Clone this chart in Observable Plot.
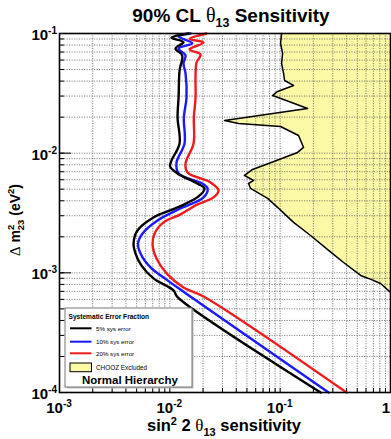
<!DOCTYPE html>
<html><head><meta charset="utf-8">
<script src="https://cdn.jsdelivr.net/npm/d3@7"></script>
<script src="https://cdn.jsdelivr.net/npm/@observablehq/plot@0.6"></script>
<style>
html,body{margin:0;padding:0;background:#fff;}
svg{display:block;font-family:"Liberation Sans",Arial,sans-serif;}
</style></head>
<body><div id="chart"></div>
<script>
// 5% systematic error (black)
const dm2_5  = [0.1, 0.0921, 0.0846, 0.0749, 0.0655, 0.0491, 0.0292, 0.01987, 0.01205, 0.00869, 0.00774, 0.00677, 0.00558, 0.00507, 0.00435, 0.00352, 0.0029, 0.00226, 0.00176, 0.00145, 0.00115, 0.000898, 0.000713, 0.000626, 0.0001];
const sens_5 = [0.01477, 0.01036, 0.01331, 0.01126, 0.01295, 0.01225, 0.0120, 0.01175, 0.01225, 0.01036, 0.01005, 0.01175, 0.0177, 0.02064, 0.0182, 0.01175, 0.00711, 0.00509, 0.00469, 0.00489, 0.00554, 0.00711, 0.0108, 0.01175, 0.2324];
// 10% systematic error (blue)
const dm2_10  = [0.1, 0.0944, 0.0829, 0.0749, 0.0655, 0.0562, 0.0463, 0.0292, 0.01987, 0.01205, 0.00836, 0.00677, 0.00558, 0.00507, 0.00427, 0.00345, 0.00274, 0.00213, 0.00176, 0.00145, 0.00111, 0.000865, 0.000686, 0.0001];
const sens_10 = [0.0154, 0.0120, 0.01596, 0.0120, 0.01388, 0.0133, 0.01388, 0.01416, 0.0134, 0.01359, 0.0115, 0.0120, 0.01968, 0.02198, 0.02022, 0.0125, 0.00773, 0.00566, 0.00515, 0.00542, 0.00668, 0.00953, 0.01359, 0.2748];
// 20% systematic error (red)
const dm2_20  = [0.1, 0.0900, 0.0841, 0.0735, 0.0668, 0.0572, 0.0446, 0.0292, 0.01987, 0.01205, 0.0082, 0.0069, 0.00569, 0.00488, 0.00427, 0.00373, 0.00308, 0.00264, 0.00213, 0.00173, 0.00132, 0.00097, 0.000755, 0.000635, 0.0001];
const sens_20 = [0.0215, 0.01509, 0.0202, 0.01509, 0.01898, 0.01746, 0.0171, 0.0171, 0.0165, 0.0164, 0.01388, 0.01447, 0.0234, 0.02764, 0.0249, 0.01782, 0.0125, 0.00877, 0.00727, 0.00697, 0.00757, 0.00953, 0.0133, 0.0202, 0.400];
// CHOOZ exclusion boundary
const chooz_dm2  = [0.1, 0.0825, 0.0681, 0.0562, 0.0463, 0.0405, 0.0368, 0.0328, 0.0303, 0.0281, 0.0236, 0.01875, 0.0177, 0.0167, 0.01406, 0.01117, 0.01014, 0.0082, 0.00731, 0.00651, 0.00592, 0.00558, 0.00507, 0.00419, 0.00352, 0.00264, 0.00205, 0.00154, 0.00122, 0.000951, 0.000898, 0.000815, 0.000686];
const chooz_sens = [0.1030, 0.1008, 0.1052, 0.1030, 0.1074, 0.1096, 0.1323, 0.0947, 0.0853, 0.1074, 0.1772, 0.0313, 0.0420, 0.1008, 0.1468, 0.1629, 0.1438, 0.0785, 0.0562, 0.0475, 0.0574, 0.0517, 0.0539, 0.0769, 0.0947, 0.1323, 0.1886, 0.2748, 0.3757, 0.5358, 0.633, 0.8132, 1.0];

const xMajor = [1e-3, 1e-2, 1e-1, 1];
const xMajorLabels = ["-3", "-2", "-1", ""];
const yMajor = [1e-1, 1e-2, 1e-3, 1e-4];
const yMajorLabels = ["-1", "-2", "-3", "-4"];
const legendLabels = ["5% sys error", "10% sys error", "20% sys error", "CHOOZ Excluded"];
const seriesColors = ["#000000", "#1a1aff", "#ee1c1c"];

const minor = (lo, hi) => { const t = []; for (let e = lo; e < hi; e++) for (let k = 1; k <= 9; k++) t.push(k * Math.pow(10, e)); t.push(Math.pow(10, hi)); return t; };
const xMinor = minor(-3, 0), yMinor = minor(-4, -1);

const zip = (xs, ys) => xs.map((x, i) => ({x, y: ys[i]}));
const s5 = zip(sens_5, dm2_5), s10 = zip(sens_10, dm2_10), s20 = zip(sens_20, dm2_20), chooz = zip(chooz_sens, chooz_dm2);

const chart = Plot.plot({
  width: 391, height: 439,
  marginTop: 33, marginLeft: 59, marginRight: 1, marginBottom: 47,
  x: {type: "log", domain: [1e-3, 1]},
  y: {type: "log", domain: [1e-4, 1e-1]},
  marks: [
    Plot.areaX(chooz, {y: "y", x1: "x", x2: 1, fill: "#fbf9a6"}),
    Plot.gridX(xMinor, {stroke: "#555", strokeOpacity: 0.9, strokeWidth: 0.8, strokeDasharray: "1.2,1.3"}),
    Plot.gridY(yMinor, {stroke: "#555", strokeOpacity: 0.9, strokeWidth: 0.8, strokeDasharray: "1.2,1.3"}),
    Plot.axisX({ticks: xMinor, tickSize: -4, tickFormat: () => "", label: null}),
    Plot.axisY({ticks: yMinor, tickSize: -5, tickFormat: () => "", label: null}),
    Plot.axisY({ticks: yMajor, tickSize: -12, tickFormat: () => "", label: null}),
    Plot.line(chooz, {x: "x", y: "y", stroke: "#000", strokeWidth: 1.5}),
    Plot.line(s20, {x: "x", y: "y", stroke: seriesColors[2], strokeWidth: 2.4, curve: "catmull-rom"}),
    Plot.line(s10, {x: "x", y: "y", stroke: seriesColors[1], strokeWidth: 2.4, curve: "catmull-rom"}),
    Plot.line(s5, {x: "x", y: "y", stroke: seriesColors[0], strokeWidth: 2.4, curve: "catmull-rom"}),
    Plot.frame({stroke: "#000", strokeWidth: 1.6})
  ]
});
document.getElementById("chart").appendChild(chart);

const sx = chart.scale("x"), sy = chart.scale("y");
const svg = d3.select(chart);
const F = '"Liberation Sans",Arial,sans-serif';
const G = '"Liberation Serif","Times New Roman",serif';

// y tick labels
yMajor.forEach((v, i) => {
  const t = svg.append("text").attr("x", 57).attr("y", sy.apply(v) + 7)
    .attr("text-anchor", "end").attr("font-family", F).attr("font-weight", "bold").attr("font-size", 15).attr("fill", "#000");
  t.append("tspan").text("10");
  t.append("tspan").attr("dy", -6).attr("font-size", 10).text(yMajorLabels[i]);
});
// x tick labels
xMajor.forEach((v, i) => {
  const last = xMajorLabels[i] === "";
  const t = svg.append("text").attr("x", last ? sx.apply(v) : sx.apply(v)).attr("y", 413)
    .attr("text-anchor", last ? "end" : "middle").attr("font-family", F).attr("font-weight", "bold").attr("font-size", 15).attr("fill", "#000");
  if (last) { t.text("1"); }
  else { t.append("tspan").text("10"); t.append("tspan").attr("dy", -6).attr("font-size", 10).text(xMajorLabels[i]); }
});

// title
{
  const t = svg.append("text").attr("x", 231).attr("y", 22).attr("text-anchor", "middle")
    .attr("font-family", F).attr("font-weight", "bold").attr("font-size", 19).attr("fill", "#000");
  t.append("tspan").text("90% CL ");
  t.append("tspan").attr("font-family", G).attr("font-weight", "normal").attr("font-size", 20).text("θ");
  t.append("tspan").attr("dy", 5).attr("font-size", 12.5).text("13");
  t.append("tspan").attr("dy", -5).text(" Sensitivity");
}
// x axis title
{
  const t = svg.append("text").attr("x", 224).attr("y", 431).attr("text-anchor", "middle")
    .attr("font-family", F).attr("font-weight", "bold").attr("font-size", 16.5).attr("fill", "#000");
  t.append("tspan").text("sin");
  t.append("tspan").attr("dy", -6).attr("font-size", 11).text("2");
  t.append("tspan").attr("dy", 6).text(" 2 ");
  t.append("tspan").attr("font-family", G).attr("font-weight", "normal").attr("font-size", 17).text("θ");
  t.append("tspan").attr("dy", 5).attr("font-size", 11).text("13");
  t.append("tspan").attr("dy", -5).text(" sensitivity");
}
// y axis title
{
  const t = svg.append("text").attr("transform", "translate(20,220) rotate(-90)").attr("text-anchor", "middle")
    .attr("font-family", F).attr("font-weight", "bold").attr("font-size", 14).attr("fill", "#000");
  t.append("tspan").attr("font-family", G).attr("font-weight", "normal").attr("font-size", 15).text("Δ");
  t.append("tspan").text(" m");
  t.append("tspan").attr("dy", -6).attr("font-size", 9.5).text("2");
  t.append("tspan").attr("dy", 10).attr("dx", -5.5).attr("font-size", 9.5).text("23");
  t.append("tspan").attr("dy", -4).text(" (eV");
  t.append("tspan").attr("dy", -6).attr("font-size", 9.5).text("2");
  t.append("tspan").attr("dy", 6).text(")");
}

// legend
{
  const g = svg.append("g").attr("font-family", F).attr("fill", "#000").attr("text-anchor", "start");
  g.append("rect").attr("x", 66.5).attr("y", 309.5).attr("width", 127).attr("height", 79).attr("fill", "#bbb");
  g.append("rect").attr("x", 65).attr("y", 308).attr("width", 127).attr("height", 79).attr("fill", "#fff").attr("stroke", "#777").attr("stroke-width", 1);
  g.append("text").attr("x", 68.5).attr("y", 318.5).attr("text-anchor", "start").attr("font-size", 6.6).attr("font-weight", "bold").text("Systematic Error Fraction");
  const ys = [328.3, 341.7, 353.3];
  ys.forEach((yy, i) => {
    g.append("line").attr("x1", 70).attr("x2", 91.5).attr("y1", yy).attr("y2", yy).attr("stroke", seriesColors[i]).attr("stroke-width", 2);
    g.append("text").attr("x", 96).attr("y", yy + 2.2).attr("text-anchor", "start").attr("font-size", 6.2).text(legendLabels[i]);
  });
  g.append("rect").attr("x", 70).attr("y", 363).attr("width", 21.5).attr("height", 8.7).attr("fill", "#fbf9a6").attr("stroke", "#000").attr("stroke-width", 1);
  g.append("text").attr("x", 96).attr("y", 370).attr("text-anchor", "start").attr("font-size", 6.4).text(legendLabels[3]);
  g.append("text").attr("x", 82).attr("y", 384).attr("text-anchor", "start").attr("font-size", 11.5).attr("font-weight", "bold").text("Normal Hierarchy");
}
</script>
</body></html>
